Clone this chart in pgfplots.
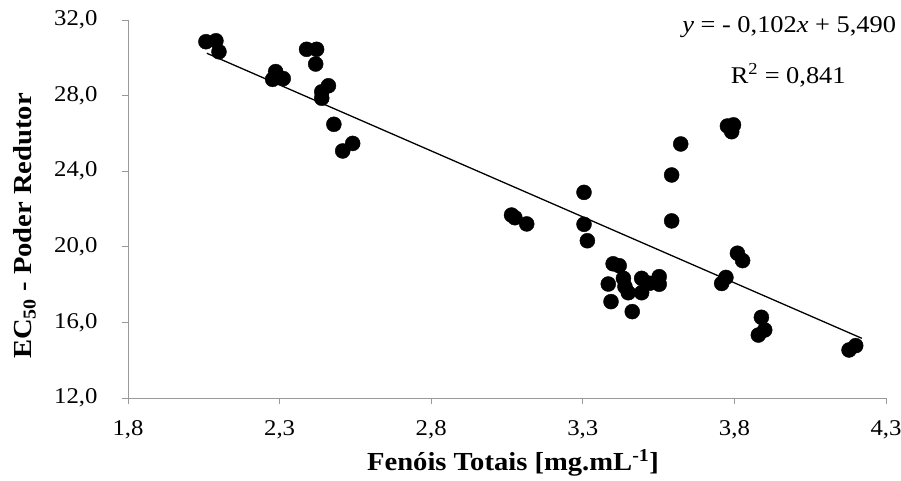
\documentclass[border=0pt]{standalone}
\usepackage{pgfplots}
\pgfplotsset{compat=1.18}
\usepackage{fontspec}
\setmainfont[FakeStretch=1.1]{Liberation Serif}
\begin{document}
\begin{tikzpicture}
\useasboundingbox (-128pt,-83pt) rectangle (773pt,398pt);
\begin{axis}[
  at={(0,0)}, anchor=south west,
  scale only axis, width=758pt, height=378pt,
  xmin=1.8, xmax=4.3, ymin=12, ymax=32,
  xtick={1.8,2.3,2.8,3.3,3.8,4.3},
  ytick={12,16,20,24,28,32},
  axis lines*=left,
  axis line style={draw=gray!80, line width=0.9pt},
  tick style={draw=gray!80, line width=0.9pt},
  tick align=outside,
  major tick length=6pt,
  /pgf/number format/assume math mode=true,
  /pgf/number format/use comma,
  /pgf/number format/fixed,
  /pgf/number format/fixed zerofill,
  /pgf/number format/precision=1,
  ticklabel style={font=\fontsize{22.5}{27}\selectfont},
  xticklabel style={anchor=north, yshift=-13pt},
  yticklabel style={anchor=east, xshift=-21pt},
  xlabel={\textbf{Fenóis Totais [mg.mL\textsuperscript{-1}]}},
  ylabel={\textbf{EC\textsubscript{50} - Poder Redutor}},
  label style={font=\fontsize{26}{30}\selectfont},
  xlabel style={at={(axis description cs:0.508,-0.172)}, anchor=center},
  ylabel style={at={(axis description cs:-0.136,0.455)}, anchor=center, rotate=0},
  clip=false,
]
\addplot[only marks, mark=*, mark size=7.5pt, black] table {
x y
2.057 30.85
2.090 30.90
2.100 30.32
2.287 29.27
2.277 28.86
2.312 28.90
2.389 30.45
2.422 30.45
2.419 29.67
2.461 28.52
2.439 28.20
2.439 27.86
2.479 26.48
2.541 25.47
2.508 25.07
3.065 21.68
3.076 21.54
3.115 21.21
3.304 22.88
3.304 21.19
3.315 20.32
3.400 19.10
3.420 19.00
3.384 18.03
3.393 17.10
3.434 18.33
3.439 17.89
3.450 17.57
3.463 16.57
3.494 18.33
3.494 17.57
3.520 18.07
3.552 18.42
3.552 18.02
3.593 23.80
3.593 21.37
3.623 25.44
3.777 26.39
3.797 26.45
3.791 26.09
3.810 19.66
3.827 19.27
3.772 18.38
3.758 18.06
3.889 16.27
3.900 15.60
3.879 15.33
4.200 14.77
4.178 14.54
};
\addplot[black, line width=1.3pt] coordinates {(2.06,30.24) (4.22,15.16)};
\node[anchor=base east, font=\fontsize{24}{28}\selectfont] at (rel axis cs:1.018,0.966) {\textit{y} = - 0,102\textit{x} + 5,490};
\node[anchor=base, font=\fontsize{24}{28}\selectfont] at (rel axis cs:0.871,0.833) {R\textsuperscript{2} = 0,841};
\end{axis}
\end{tikzpicture}
\end{document}
